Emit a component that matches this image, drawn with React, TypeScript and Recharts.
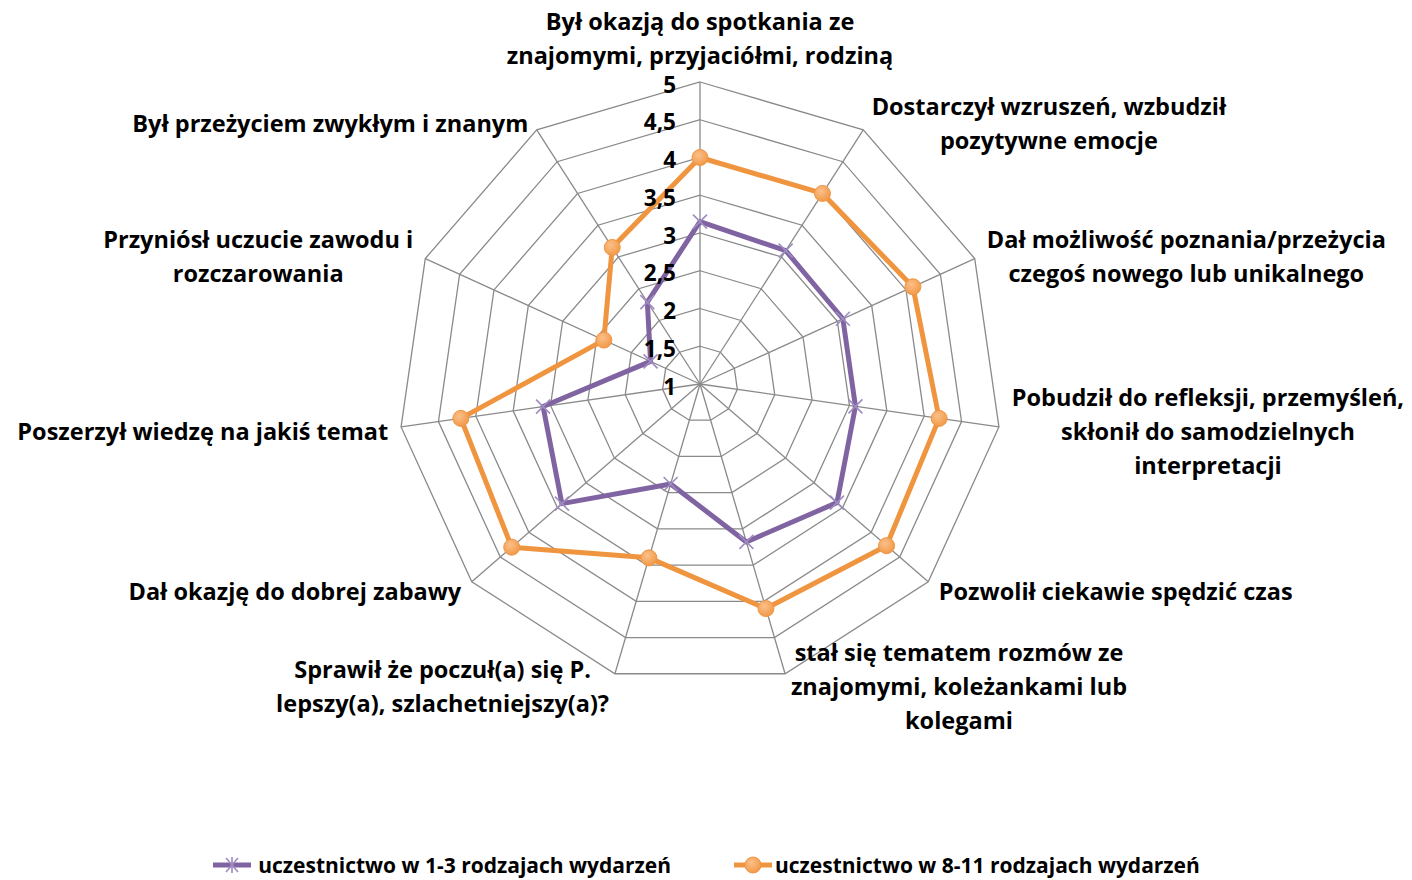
import React from 'react';
import { RadarChart, Radar, PolarGrid, PolarAngleAxis, PolarRadiusAxis, Legend } from 'recharts';

const categories = [
  'Był okazją do spotkania ze\nznajomymi, przyjaciółmi, rodziną',
  'Dostarczył wzruszeń, wzbudził\npozytywne emocje',
  'Dał możliwość poznania/przeżycia\nczegoś nowego lub unikalnego',
  'Pobudził do refleksji, przemyśleń,\nskłonił do samodzielnych\ninterpretacji',
  'Pozwolił ciekawie spędzić czas',
  'stał się tematem rozmów ze\nznajomymi, koleżankami lub\nkolegami',
  'Sprawił że poczuł(a) się P.\nlepszy(a), szlachetniejszy(a)?',
  'Dał okazję do dobrej zabawy',
  'Poszerzył wiedzę na jakiś temat',
  'Przyniósł uczucie zawodu i\nrozczarowania',
  'Był przeżyciem zwykłym i znanym',
];

const seriesLow = [3.15, 3.1, 3.08, 3.08, 3.4, 3.18, 2.38, 3.42, 3.1, 1.72, 2.29];
const seriesHigh = [4.0, 4.0, 4.1, 4.2, 4.27, 4.1, 3.4, 4.3, 4.2, 2.4, 3.15];
const seriesNames = ['uczestnictwo w 1-3 rodzajach wydarzeń', 'uczestnictwo w 8-11 rodzajach wydarzeń'];
const radiusTicks = [1, 1.5, 2, 2.5, 3, 3.5, 4, 4.5, 5];

const data = categories.map((c, i) => ({ name: c, low: seriesLow[i], high: seriesHigh[i] }));

const W = 1412;
const H = 880;
const CX = 700;
const CY = 384;
const R = 302;
const FONT = '"Open Sans", Lato, sans-serif';
const FS = 23.5;
const LEG_FS = 21;
const LH = 34;
const PURPLE = '#8064A2';
const ORANGE = '#F0953F';

let measureCtx: CanvasRenderingContext2D | null = null;
function measure(t: string): number {
  if (!measureCtx) {
    const c = document.createElement('canvas');
    measureCtx = c.getContext('2d');
  }
  if (!measureCtx) return t.length * FS * 0.55;
  measureCtx.font = `bold ${FS}px ${FONT}`;
  return measureCtx.measureText(t).width;
}

const AngleTick = (props: any) => {
  const { payload, index } = props;
  const lines: string[] = String(payload.value).split('\n');
  const n = categories.length;
  const th = (index * 2 * Math.PI) / n;
  const s = Math.sin(th);
  const c = Math.cos(th);
  const vx = CX + R * s;
  const vy = CY - R * c;
  const w = Math.max(...lines.map(measure));
  const blockH = lines.length * LH;
  let centerX: number;
  let centerY: number;
  if (Math.abs(s) < 0.05 && c > 0) {
    centerX = vx;
    centerY = vy - 10 - blockH / 2;
  } else if (s > 0) {
    centerX = vx + 3 + 10 * Math.abs(s) + w / 2;
    centerY = vy + 2 - 11 * c;
  } else {
    centerX = vx - (3 + 10 * Math.abs(s)) - w / 2;
    centerY = vy + 2 - 11 * c;
  }
  const top = centerY - blockH / 2;
  return (
    <g>
      {lines.map((l, i) => (
        <text
          key={i}
          x={centerX}
          y={top + LH * (i + 0.5)}
          textAnchor="middle"
          dominantBaseline="central"
          fontFamily={FONT}
          fontWeight="bold"
          fontSize={FS}
          fill="#000"
        >
          {l}
        </text>
      ))}
    </g>
  );
};

const RadiusTick = (props: any) => {
  const { x, y, payload } = props;
  return (
    <text
      x={x - 24}
      y={y + 2}
      textAnchor="end"
      dominantBaseline="central"
      fontFamily={FONT}
      fontWeight="bold"
      fontSize={22.5}
      fill="#000"
    >
      {String(payload.value).replace('.', ',')}
    </text>
  );
};

const StarDot = (props: any) => {
  const { cx, cy, index } = props;
  const d = 7;
  return (
    <g key={`s${index}`} stroke="#9F8CC0" strokeWidth={1.6}>
      <line x1={cx - d} y1={cy - d} x2={cx + d} y2={cy + d} />
      <line x1={cx - d} y1={cy + d} x2={cx + d} y2={cy - d} />
    </g>
  );
};

const CircleDot = (props: any) => {
  const { cx, cy, index } = props;
  return (
    <circle key={`c${index}`} cx={cx} cy={cy} r={8} fill="url(#orangeDot)" stroke="#EE9645" strokeWidth={1} />
  );
};

const LegendContent = () => (
  <div
    style={{
      display: 'flex',
      justifyContent: 'center',
      alignItems: 'center',
      fontFamily: FONT,
      fontWeight: 'bold',
      fontSize: LEG_FS,
      lineHeight: '24px',
      height: 24,
      color: '#000',
      gap: 62,
    }}
  >
    <div style={{ display: 'flex', alignItems: 'center' }}>
      <svg width={40} height={20} style={{ marginRight: 6 }}>
        <line x1={1} y1={10} x2={39} y2={10} stroke={PURPLE} strokeWidth={5} />
        <g stroke="#9F8CC0" strokeWidth={1.6}>
          <line x1={14} y1={3} x2={26} y2={17} />
          <line x1={14} y1={17} x2={26} y2={3} />
          <line x1={20} y1={2} x2={20} y2={18} />
        </g>
      </svg>
      <span>{seriesNames[0]}</span>
    </div>
    <div style={{ display: 'flex', alignItems: 'center' }}>
      <svg width={40} height={20} style={{ marginRight: 2 }}>
        <defs>
          <radialGradient id="orangeDotL" cx="40%" cy="35%" r="65%">
            <stop offset="0%" stopColor="#FBC08A" />
            <stop offset="100%" stopColor="#F29A48" />
          </radialGradient>
        </defs>
        <line x1={1} y1={10} x2={39} y2={10} stroke={ORANGE} strokeWidth={5} />
        <circle cx={20} cy={10} r={8} fill="url(#orangeDotL)" stroke="#EE9645" />
      </svg>
      <span>{seriesNames[1]}</span>
    </div>
  </div>
);

export default function App() {
  return (
    <div style={{ position: 'absolute', left: 0, top: 0, width: W, height: H, background: '#fff' }}>
      <RadarChart width={W} height={H} data={data} cx={CX} cy={CY} outerRadius={R} startAngle={90} endAngle={-270}>
        <defs>
          <radialGradient id="orangeDot" cx="40%" cy="35%" r="65%">
            <stop offset="0%" stopColor="#FBC08A" />
            <stop offset="100%" stopColor="#F29A48" />
          </radialGradient>
        </defs>
        <PolarGrid gridType="polygon" stroke="#8A8A8A" strokeWidth={1.3} />
        <PolarAngleAxis dataKey="name" tick={AngleTick} tickLine={false} axisLine={false} />
        <PolarRadiusAxis
          angle={90}
          domain={[1, 5]}
          ticks={radiusTicks as any}
          tickCount={9}
          tick={RadiusTick}
          axisLine={false}
          tickLine={false}
        />
        <Radar
          name={seriesNames[0]}
          dataKey="low"
          stroke={PURPLE}
          strokeWidth={5}
          fill="none"
          fillOpacity={0}
          strokeLinejoin="round"
          dot={StarDot}
          isAnimationActive={false}
        />
        <Radar
          name={seriesNames[1]}
          dataKey="high"
          stroke={ORANGE}
          strokeWidth={5}
          fill="none"
          fillOpacity={0}
          strokeLinejoin="round"
          dot={CircleDot}
          isAnimationActive={false}
        />
        <Legend content={LegendContent} wrapperStyle={{ position: 'absolute', left: 0, top: 853, width: W, height: 24 }} />
      </RadarChart>
    </div>
  );
}
